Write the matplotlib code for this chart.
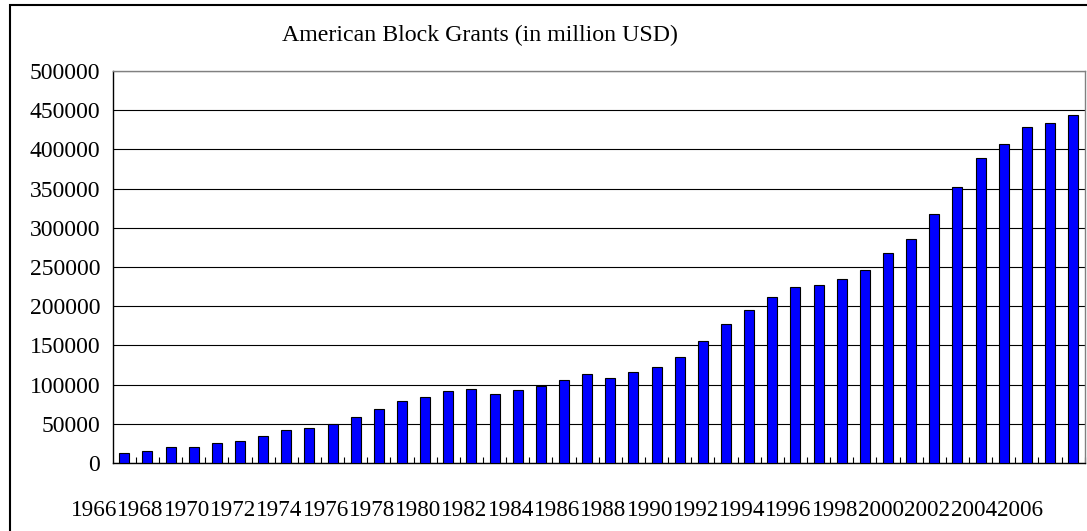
import matplotlib
matplotlib.use("Agg")
import matplotlib.pyplot as plt
from matplotlib.patches import Rectangle
from matplotlib.transforms import ScaledTranslation

years = list(range(1966, 2008))
grants = [12400, 15200, 19900, 19900, 25000, 27600, 34300, 42000, 44500, 49700,
          59000, 69300, 79000, 84200, 91400, 93800, 88400, 93500, 98200, 105900,
          113100, 108000, 115700, 122900, 135200, 155200, 177300, 194700, 212200, 224100,
          226600, 234300, 246200, 268300, 285700, 317600, 352400, 389000, 406900, 429000,
          433700, 443900]
label_years = [str(y) for y in range(1966, 2007, 2)]
y_ticks = list(range(0, 500001, 50000))
title = "American Block Grants (in million USD)"

plt.rcParams['font.family'] = ['Liberation Serif', 'DejaVu Serif']

W, H = 1087, 531
fig = plt.figure(figsize=(W / 100, H / 100), dpi=100)
ax = fig.add_axes([112.7 / W, 1 - 463 / H, 972 / W, 392 / H])

x = list(range(len(years)))
ax.bar(x, grants, width=0.43, color='#0000FF', edgecolor='black', linewidth=0.8, zorder=3)

ax.set_yticks(y_ticks)
ax.set_yticklabels([str(v) for v in y_ticks], fontsize=17)
ax.tick_params(axis='y', length=0, pad=9)
ax.yaxis.grid(True, color='black', linewidth=0.8, zorder=0)
ax.set_axisbelow(True)

# category boundary tick marks (pointing up)
ax.set_xticks([k + 0.5 for k in range(len(years))], minor=True)
ax.tick_params(axis='x', which='minor', direction='in', length=4.3, width=0.8, color='black')

# year labels every second year; the original draws them shifted left of their bars
ax.set_xticks([years.index(int(y)) for y in label_years])
ax.set_xticklabels(label_years, fontsize=16.7)
ax.tick_params(axis='x', which='major', length=0, pad=27)
shift = ScaledTranslation(-30 / 100, 0, fig.dpi_scale_trans)
for lab in ax.get_xticklabels():
    lab.set_transform(lab.get_transform() + shift)

ax.set_xlim(-0.5, len(years) - 0.5)
ax.set_ylim(0, 500000)

for s in ['left', 'bottom']:
    ax.spines[s].set_color('black')
    ax.spines[s].set_linewidth(1.0)
for s in ['top', 'right']:
    ax.spines[s].set_color('#808080')
    ax.spines[s].set_linewidth(1.0)

fig.text(480 / W, 1 - 35 / H, title, fontsize=17.2, ha='center', va='center')

# outer chart frame (right/bottom edges lie outside the cropped image)
fig.patches.append(Rectangle((10 / W, -0.1), 1.2, 1 - 5 / H + 0.1, transform=fig.transFigure,
                             fill=False, edgecolor='black', linewidth=1.5, zorder=-1))

fig.savefig("out.png", dpi=100)
